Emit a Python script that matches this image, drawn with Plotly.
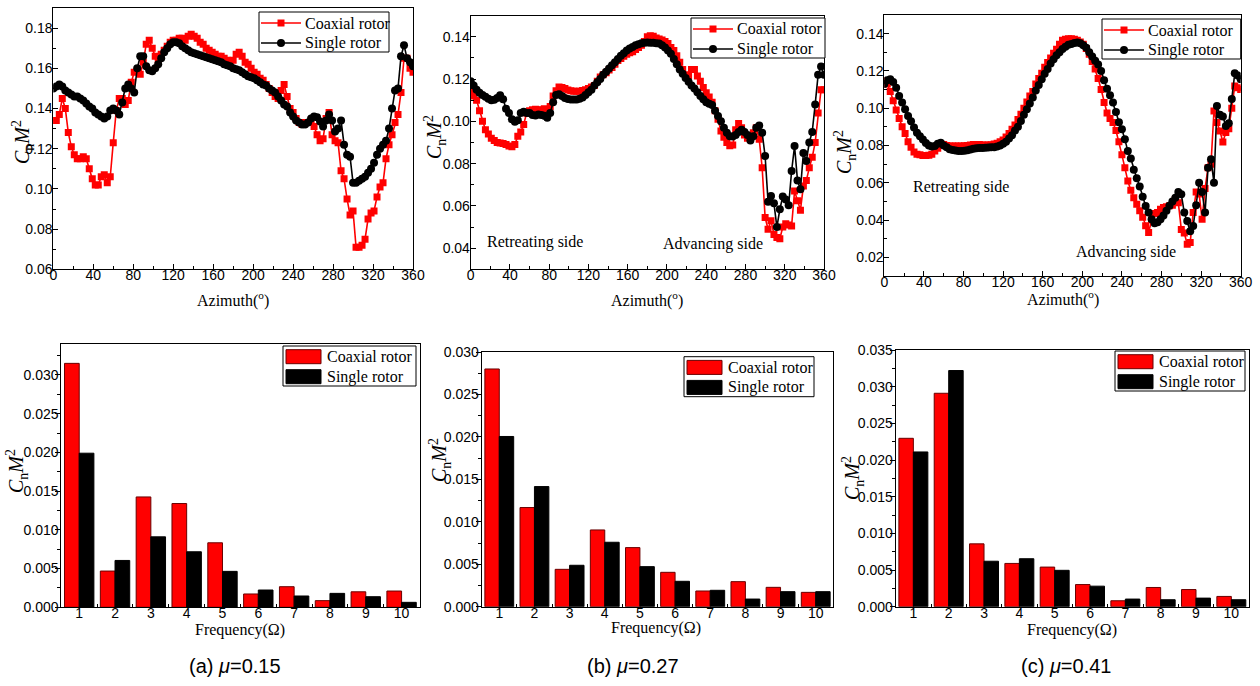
import plotly.graph_objects as go

# ---------------- data ----------------
azimuth = list(range(0, 361, 3))

tl_coaxial = [
    0.134, 0.134, 0.137, 0.145, 0.140, 0.128, 0.121, 0.117, 0.115, 0.115,
    0.116, 0.115, 0.110, 0.105, 0.102, 0.102, 0.106, 0.107, 0.103, 0.106,
    0.123, 0.139, 0.145, 0.145, 0.142, 0.144, 0.153, 0.158, 0.159, 0.157,
    0.163, 0.172, 0.174, 0.170, 0.166, 0.164, 0.167, 0.169, 0.171, 0.173,
    0.174, 0.174, 0.175, 0.175, 0.174, 0.176, 0.177, 0.176, 0.175, 0.173,
    0.172, 0.170, 0.169, 0.168, 0.167, 0.166, 0.166, 0.165, 0.164, 0.163,
    0.164, 0.167, 0.168, 0.166, 0.163, 0.162, 0.160, 0.158, 0.157, 0.155,
    0.154, 0.152, 0.150, 0.148, 0.146, 0.145, 0.149, 0.152, 0.146, 0.140,
    0.138, 0.135, 0.133, 0.132, 0.133, 0.133, 0.134, 0.131, 0.127, 0.124,
    0.125, 0.135, 0.138, 0.127, 0.124, 0.123, 0.109, 0.105, 0.095, 0.087,
    0.089, 0.071, 0.071, 0.072, 0.075, 0.085, 0.088, 0.089, 0.096, 0.101,
    0.103, 0.115, 0.122, 0.127, 0.133, 0.137, 0.148, 0.165, 0.165, 0.160,
    0.158]
tl_single = [
    0.150, 0.151, 0.152, 0.151, 0.149, 0.148, 0.147, 0.146, 0.146, 0.145,
    0.144, 0.1425, 0.141, 0.140, 0.138, 0.137, 0.136, 0.135, 0.136, 0.139,
    0.140, 0.139, 0.137, 0.143, 0.150, 0.152, 0.150, 0.148, 0.160, 0.166,
    0.166, 0.161, 0.159, 0.1585, 0.160, 0.162, 0.165, 0.168, 0.170, 0.172,
    0.173, 0.173, 0.1725, 0.171, 0.170, 0.169, 0.168, 0.1675, 0.167, 0.1665,
    0.166, 0.1655, 0.165, 0.1645, 0.164, 0.1635, 0.163, 0.162, 0.1615, 0.161,
    0.160, 0.1595, 0.159, 0.158, 0.157, 0.156, 0.1555, 0.155, 0.154, 0.153,
    0.152, 0.1515, 0.150, 0.149, 0.148, 0.146, 0.144, 0.142, 0.141, 0.138,
    0.136, 0.134, 0.133, 0.132, 0.132, 0.133, 0.135, 0.136, 0.1357, 0.1335,
    0.131, 0.134, 0.137, 0.134, 0.1285, 0.130, 0.134, 0.122, 0.117, 0.116,
    0.103, 0.103, 0.104, 0.105, 0.106, 0.108, 0.110, 0.113, 0.117, 0.120,
    0.122, 0.124, 0.130, 0.140, 0.149, 0.150, 0.166, 0.1715, 0.165, 0.163,
    0.161]

tm_coaxial = [
    0.115, 0.112, 0.110, 0.105, 0.100, 0.096, 0.094, 0.092, 0.091, 0.090,
    0.0898, 0.0895, 0.089, 0.0884, 0.088, 0.089, 0.093, 0.095, 0.0985, 0.104,
    0.105, 0.1055, 0.1057, 0.1055, 0.1054, 0.106, 0.1055, 0.107, 0.112, 0.1145,
    0.1163, 0.116, 0.1155, 0.1148, 0.1145, 0.1143, 0.1143, 0.1143, 0.1146, 0.115,
    0.1155, 0.1163, 0.117, 0.119, 0.121, 0.122, 0.123, 0.1243, 0.1255, 0.127,
    0.1288, 0.1298, 0.1308, 0.1317, 0.1325, 0.133, 0.134, 0.135, 0.136, 0.1378,
    0.140, 0.1405, 0.1403, 0.1395, 0.139, 0.1385, 0.1378, 0.1368, 0.135, 0.1335,
    0.131, 0.128, 0.1245, 0.122, 0.1217, 0.1246, 0.1245, 0.1215, 0.119, 0.116,
    0.1135, 0.1115, 0.109, 0.105, 0.101, 0.0955, 0.0925, 0.090, 0.0885, 0.0888,
    0.096, 0.099, 0.097, 0.0935, 0.092, 0.0918, 0.0946, 0.097, 0.0915, 0.078,
    0.0545, 0.049, 0.053, 0.0465, 0.045, 0.0445, 0.050, 0.0515, 0.051, 0.0505,
    0.067, 0.0624, 0.058, 0.0694, 0.072, 0.078, 0.083, 0.090, 0.104, 0.115,
    0.115]
tm_single = [
    0.119, 0.117, 0.115, 0.1135, 0.1125, 0.1117, 0.1107, 0.110, 0.1102, 0.111,
    0.1123, 0.1105, 0.106, 0.104, 0.101, 0.0998, 0.1005, 0.104, 0.1045, 0.104,
    0.104, 0.103, 0.1028, 0.1033, 0.103, 0.1027, 0.1017, 0.104, 0.109, 0.1125,
    0.1128, 0.112, 0.111, 0.1106, 0.1104, 0.1104, 0.1104, 0.1107, 0.1113, 0.1125,
    0.1138, 0.115, 0.117, 0.1185, 0.120, 0.122, 0.1235, 0.125, 0.1265, 0.128,
    0.1295, 0.131, 0.1322, 0.1335, 0.1345, 0.1352, 0.136, 0.1365, 0.137, 0.1372,
    0.1373, 0.1372, 0.1372, 0.137, 0.1368, 0.136, 0.135, 0.1335, 0.132, 0.1295,
    0.127, 0.1245, 0.1225, 0.1205, 0.1188, 0.117, 0.1155, 0.1138, 0.112, 0.1105,
    0.109, 0.1083, 0.1078, 0.105, 0.1025, 0.100, 0.097, 0.0946, 0.093, 0.0928,
    0.0935, 0.095, 0.096, 0.095, 0.0935, 0.091, 0.093, 0.097, 0.098, 0.0946,
    0.0836, 0.062, 0.0647, 0.0612, 0.050, 0.0584, 0.0644, 0.063, 0.0603, 0.0765,
    0.0883, 0.072, 0.0679, 0.085, 0.0813, 0.090, 0.095, 0.108, 0.122, 0.126,
    0.122]

tr_coaxial = [
    0.1146, 0.113, 0.109, 0.104, 0.099, 0.0945, 0.090, 0.0865, 0.082, 0.079,
    0.0765, 0.0753, 0.075, 0.0747, 0.0747, 0.0748, 0.0753, 0.077, 0.0785, 0.081,
    0.0805, 0.080, 0.0797, 0.0797, 0.0797, 0.0797, 0.0797, 0.0798, 0.080, 0.0803,
    0.0805, 0.0806, 0.0805, 0.0803, 0.0803, 0.0803, 0.0804, 0.0808, 0.0812, 0.082,
    0.083, 0.0846, 0.0865, 0.0887, 0.091, 0.094, 0.0967, 0.100, 0.1033, 0.1065,
    0.109, 0.113, 0.116, 0.1187, 0.122, 0.1245, 0.127, 0.1295, 0.1316, 0.1343,
    0.1365, 0.137, 0.1373, 0.1373, 0.137, 0.1365, 0.1355, 0.1343, 0.132, 0.129,
    0.125, 0.121, 0.116, 0.110, 0.103, 0.0975, 0.0945, 0.0923, 0.088, 0.082,
    0.075, 0.068, 0.061, 0.056, 0.052, 0.0485, 0.045, 0.0415, 0.037, 0.0333,
    0.040, 0.0435, 0.044, 0.0458, 0.0467, 0.0472, 0.0477, 0.048, 0.051, 0.0493,
    0.035, 0.033, 0.027, 0.028, 0.044, 0.055, 0.054, 0.0404, 0.057, 0.068,
    0.070, 0.0985, 0.0923, 0.0878, 0.0819, 0.087, 0.089, 0.100, 0.1119, 0.111,
    0.110]
tr_single = [
    0.113, 0.115, 0.1155, 0.114, 0.111, 0.1065, 0.103, 0.0994, 0.0958, 0.093,
    0.0897, 0.0868, 0.085, 0.0832, 0.0814, 0.080, 0.0794, 0.0797, 0.081, 0.0815,
    0.080, 0.079, 0.078, 0.0776, 0.0773, 0.077, 0.0771, 0.0772, 0.0775, 0.0779,
    0.0782, 0.0785, 0.0786, 0.0787, 0.0788, 0.0789, 0.079, 0.0791, 0.0794, 0.080,
    0.081, 0.082, 0.0837, 0.0855, 0.088, 0.090, 0.0932, 0.0965, 0.0994, 0.1025,
    0.1058, 0.1095, 0.1125, 0.1155, 0.1185, 0.121, 0.124, 0.1262, 0.1284, 0.130,
    0.1318, 0.133, 0.134, 0.1345, 0.135, 0.1352, 0.1348, 0.1338, 0.1325, 0.130,
    0.1278, 0.1255, 0.1235, 0.120, 0.115, 0.1105, 0.107, 0.103, 0.098, 0.0925,
    0.0887, 0.0833, 0.077, 0.073, 0.067, 0.0625, 0.058, 0.0525, 0.0475, 0.044,
    0.0404, 0.0383, 0.0388, 0.0405, 0.0425, 0.045, 0.0477, 0.050, 0.052, 0.0551,
    0.0538, 0.044, 0.0395, 0.034, 0.0368, 0.0479, 0.060, 0.055, 0.044, 0.068,
    0.0726, 0.060, 0.1012, 0.0965, 0.0955, 0.0905, 0.092, 0.105, 0.1187, 0.1175,
    0.1155]

frequency = [1, 2, 3, 4, 5, 6, 7, 8, 9, 10]
a_coaxial = [0.0315, 0.00468, 0.01425, 0.0134, 0.00833, 0.00172, 0.00266, 0.00086, 0.0020, 0.0021]
a_single = [0.0199, 0.00605, 0.0091, 0.00717, 0.00464, 0.00223, 0.00146, 0.0018, 0.00137, 0.00064]
b_coaxial = [0.0280, 0.01168, 0.0044, 0.00904, 0.00696, 0.00405, 0.00185, 0.00295, 0.00228, 0.00169]
b_single = [0.02005, 0.01415, 0.00488, 0.00759, 0.00472, 0.00299, 0.00193, 0.0009, 0.00177, 0.00177]
c_coaxial = [0.02296, 0.0291, 0.00857, 0.0059, 0.0054, 0.00302, 0.00081, 0.00262, 0.00234, 0.0014]
c_single = [0.0211, 0.0322, 0.0062, 0.00654, 0.00496, 0.0028, 0.00104, 0.00095, 0.00117, 0.00095]

series_names = ["Coaxial rotor", "Single rotor"]
captions = ["(a) <i>μ</i>=0.15", "(b) <i>μ</i>=0.27", "(c) <i>μ</i>=0.41"]

# ---------------- styling helpers ----------------
W, H = 1260, 686
SERIF = "Liberation Serif, Times New Roman, serif"
SANS = "Liberation Sans, Arial, sans-serif"
RED = "#ff0000"
DARKRED = "#6a0000"


def px(x):
    return x / W


def py(y):
    return 1 - y / H


fig = go.Figure()

line_sets = [
    (tl_coaxial, tl_single, "x", "y"),
    (tm_coaxial, tm_single, "x2", "y2"),
    (tr_coaxial, tr_single, "x3", "y3"),
]
for coax, single, xa, ya in line_sets:
    fig.add_trace(go.Scatter(
        x=azimuth, y=coax, mode="lines+markers", name=series_names[0],
        line=dict(color=RED, width=1.6),
        marker=dict(symbol="square", size=7, color=RED),
        xaxis=xa, yaxis=ya, showlegend=False))
    fig.add_trace(go.Scatter(
        x=azimuth, y=single, mode="lines+markers", name=series_names[1],
        line=dict(color="black", width=1.6),
        marker=dict(symbol="circle", size=8, color="black"),
        xaxis=xa, yaxis=ya, showlegend=False))

bar_sets = [
    (a_coaxial, a_single, "x4", "y4"),
    (b_coaxial, b_single, "x5", "y5"),
    (c_coaxial, c_single, "x6", "y6"),
]
for coax, single, xa, ya in bar_sets:
    fig.add_trace(go.Bar(
        x=frequency, y=coax, name=series_names[0],
        marker=dict(color=RED, line=dict(color=DARKRED, width=1)),
        xaxis=xa, yaxis=ya, showlegend=False))
    fig.add_trace(go.Bar(
        x=frequency, y=single, name=series_names[1],
        marker=dict(color="black", line=dict(color="black", width=1)),
        xaxis=xa, yaxis=ya, showlegend=False))

tickfont = dict(family=SANS, size=14, color="black")

common_axis = dict(showgrid=False, zeroline=False, showline=True, linecolor="black",
                   linewidth=1, mirror=True, tickfont=tickfont, tickcolor="black",
                   automargin=False)

# plot-area pixel boxes: (left, right, top, bottom)
boxes = [
    (53.3, 413.0, 8.0, 269.3),
    (470.7, 824.0, 15.7, 269.3),
    (884.3, 1240.7, 15.0, 276.0),
    (61.3, 419.5, 344.0, 607.3),
    (481.7, 833.3, 352.0, 606.7),
    (895.7, 1249.0, 350.0, 606.7),
]
yranges = [[0.06, 0.19], [0.03, 0.15], [0.01, 0.15], [0, 0.034], [0, 0.030], [0, 0.035]]

layout = {}
for i, (l, r, t, b) in enumerate(boxes):
    sfx = "" if i == 0 else str(i + 1)
    xdom = [px(l), px(r)]
    ydom = [py(b), py(t)]
    if i < 3:
        xa = dict(common_axis, domain=xdom, anchor="y" + sfx, range=[0, 360],
                  tickmode="linear", tick0=0, dtick=40, ticks="inside", ticklen=5,
                  ticklabelstandoff=-7,
                  minor=dict(ticks="inside", dtick=20, tick0=0, ticklen=3, tickcolor="black"))
        ya = dict(common_axis, domain=ydom, anchor="x" + sfx, range=yranges[i],
                  tickmode="linear", tick0=0, dtick=0.02, tickformat=".2f",
                  ticks="inside", ticklen=5, ticklabelstandoff=-3,
                  minor=dict(ticks="inside", dtick=0.01, tick0=0, ticklen=3, tickcolor="black"))
    else:
        xa = dict(common_axis, domain=xdom, anchor="y" + sfx, range=[0.5, 10.5],
                  tickmode="linear", tick0=1, dtick=1, ticks="inside", ticklen=0,
                  ticklabelstandoff=-7,
                  minor=dict(ticks="inside", dtick=1, tick0=0.5, ticklen=3, tickcolor="black"))
        ya = dict(common_axis, domain=ydom, anchor="x" + sfx, range=yranges[i],
                  tickmode="linear", tick0=0, dtick=0.005, tickformat=".3f",
                  ticks="outside", ticklen=5, ticklabelstandoff=-6,
                  minor=dict(ticks="outside", dtick=0.0025, tick0=0, ticklen=3, tickcolor="black"))
    layout["xaxis" + sfx] = xa
    layout["yaxis" + sfx] = ya

annotations = []
shapes = []
serif16 = dict(family=SERIF, size=16, color="black")


def label(text, cx, cy, font, angle=0, xanchor="center"):
    annotations.append(dict(text=text, x=px(cx), y=py(cy), xref="paper", yref="paper",
                            xanchor=xanchor, yanchor="middle", showarrow=False,
                            textangle=angle, font=font))


def shape(kind, x0, y0, x1, y1, **kw):
    d = dict(type=kind, xref="paper", yref="paper", x0=px(x0), x1=px(x1),
             y0=py(y0), y1=py(y1), layer="above")
    d.update(kw)
    shapes.append(d)


# legend boxes for line charts: (left, top, width)
for (L, T, Wd) in [(259, 12, 130), (691, 18, 134), (1102, 19, 138.7)]:
    shape("rect", L, T + 40, L + Wd, T, line=dict(color="black", width=1), fillcolor="white")
    for row, name in enumerate(series_names):
        cy = T + 11 + 20 * row
        color = RED if row == 0 else "black"
        shape("line", L + 2, cy, L + 42, cy, line=dict(color=color, width=1.6))
        if row == 0:
            shape("rect", L + 18.5, cy + 3.5, L + 25.5, cy - 3.5, line=dict(width=0), fillcolor=RED)
        else:
            shape("circle", L + 18, cy + 4, L + 26, cy - 4, line=dict(width=0), fillcolor="black")
        label(name, L + 44, cy, serif16, xanchor="left")

# legend boxes for bar charts
for (L, T, Wd) in [(283, 346, 133), (684, 356.7, 130), (1115, 351, 130)]:
    shape("rect", L, T + 40, L + Wd, T, line=dict(color="black", width=1), fillcolor="white")
    for row, name in enumerate(series_names):
        cy = T + 10.7 + 20 * row
        fill = RED if row == 0 else "black"
        edge = DARKRED if row == 0 else "black"
        shape("rect", L + 3, cy + 7, L + 38, cy - 7, line=dict(color=edge, width=1), fillcolor=fill)
        label(name, L + 42, cy, serif16, xanchor="left")

ytitle = "<i>C</i><sub>n</sub><i>M</i><sup>2</sup>"
for (cx, cy) in [(233, 299), (647, 299), (1063, 298)]:
    label("Azimuth(<sup>o</sup>)", cx, cy, serif16)
for (cx, cy) in [(240, 630), (656, 628), (1072, 630)]:
    label("Frequency(Ω)", cx, cy, serif16)
for (cx, cy) in [(23, 142), (435, 137), (845, 152), (17, 471), (440, 460), (853, 478)]:
    label(ytitle, cx, cy, dict(family=SERIF, size=20, color="black"), angle=-90)
for (txt, cx, cy) in [("Retreating side", 535, 242), ("Advancing side", 713, 244),
                      ("Retreating side", 961, 187), ("Advancing side", 1126, 252)]:
    label(txt, cx, cy, serif16)
for txt, cx in zip(captions, [235, 633, 1066]):
    label(txt, cx, 666, dict(family=SANS, size=20, color="black"))

fig.update_layout(
    width=W, height=H,
    margin=dict(l=0, r=0, t=0, b=0, pad=0, autoexpand=False),
    paper_bgcolor="white", plot_bgcolor="white",
    barmode="group", bargap=0.18, bargroupgap=0,
    showlegend=False,
    annotations=annotations,
    shapes=shapes,
    **layout,
)

fig.write_html("out.html", config={"displayModeBar": False},
               post_script="document.body.style.margin='0px';")
